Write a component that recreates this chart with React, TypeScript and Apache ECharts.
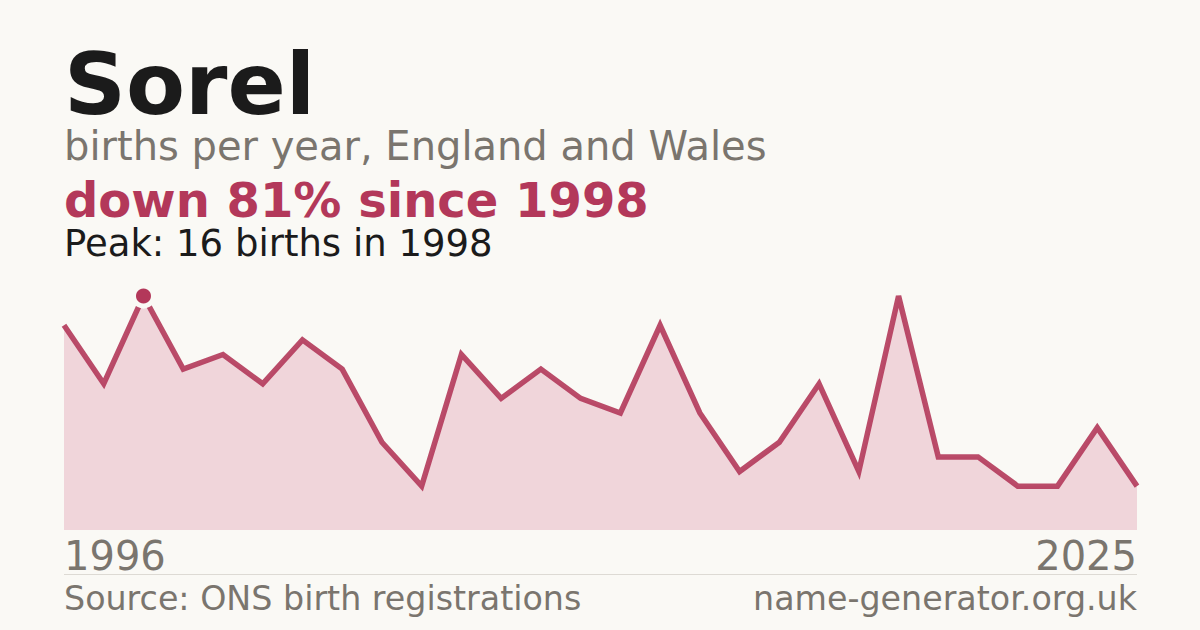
import { useRef, useEffect } from "react";
import * as echarts from "echarts";

const births = [14, 10, 16, 11, 12, 10, 13, 11, 6, 3, 12, 9, 11, 9, 8, 14, 8, 4, 6, 10, 4, 16, 5, 5, 3, 3, 7, 3];
const endLabels = ["1996", "2025"];
const peakIndex = 2;

const FONT = "DejaVu Sans";
const BG = "#faf9f5";
const ACCENT = "#b3385a";
const GREY = "#7a756e";
const INK = "#1b1b1b";

export default function App() {
  const chartRef = useRef<HTMLDivElement>(null);

  useEffect(() => {
    document.body.style.margin = "0";
    if (!chartRef.current) return;
    const chart = echarts.init(chartRef.current, null, { renderer: "svg" });
    const last = births.length - 1;

    chart.setOption({
      animation: false,
      backgroundColor: BG,
      grid: { left: 64, right: 63, top: 296, bottom: 100 },
      xAxis: {
        type: "category",
        boundaryGap: false,
        data: births.map((_, i) => String(i)),
        axisLine: { show: false },
        axisTick: { show: false },
        axisLabel: {
          interval: (idx: number) => idx === 0 || idx === last,
          formatter: (_v: string, idx: number) => (idx === 0 ? endLabels[0] : endLabels[1]),
          alignMinLabel: "left",
          alignMaxLabel: "right",
          color: GREY,
          fontFamily: FONT,
          fontSize: 40,
          margin: 6,
        },
      },
      yAxis: {
        type: "value",
        min: 0,
        max: "dataMax",
        show: false,
        splitLine: { show: false },
      },
      series: [
        {
          type: "line",
          data: births,
          symbol: "none",
          lineStyle: { color: ACCENT, width: 5.5, opacity: 0.9, join: "miter" },
          areaStyle: { color: "#f0d5da", opacity: 1 },
          z: 2,
        },
        {
          type: "scatter",
          data: [[peakIndex, births[peakIndex]]],
          symbol: "circle",
          symbolSize: 20,
          itemStyle: { color: ACCENT, borderColor: BG, borderWidth: 5, opacity: 1 },
          z: 5,
        },
      ],
      graphic: [
        {
          type: "text",
          left: 64,
          top: 41,
          style: { text: "Sorel", font: `bold 86px "${FONT}"`, fill: INK },
        },
        {
          type: "text",
          left: 64,
          top: 126,
          style: { text: "births per year, England and Wales", font: `40px "${FONT}"`, fill: GREY },
        },
        {
          type: "text",
          left: 64,
          top: 176,
          style: { text: "down 81% since 1998", font: `bold 48px "${FONT}"`, fill: ACCENT },
        },
        {
          type: "text",
          left: 64,
          top: 225,
          style: { text: "Peak: 16 births in 1998", font: `37px "${FONT}"`, fill: INK },
        },
        {
          type: "line",
          shape: { x1: 64, y1: 574.5, x2: 1137, y2: 574.5 },
          style: { stroke: "#dddad4", lineWidth: 1 },
        },
        {
          type: "text",
          left: 64,
          top: 582,
          style: { text: "Source: ONS birth registrations", font: `33.3px "${FONT}"`, fill: GREY },
        },
        {
          type: "text",
          right: 63,
          top: 582,
          style: { text: "name-generator.org.uk", font: `33.3px "${FONT}"`, fill: GREY },
        },
      ],
    });

    return () => chart.dispose();
  }, []);

  return <div ref={chartRef} style={{ width: 1200, height: 630 }} />;
}
